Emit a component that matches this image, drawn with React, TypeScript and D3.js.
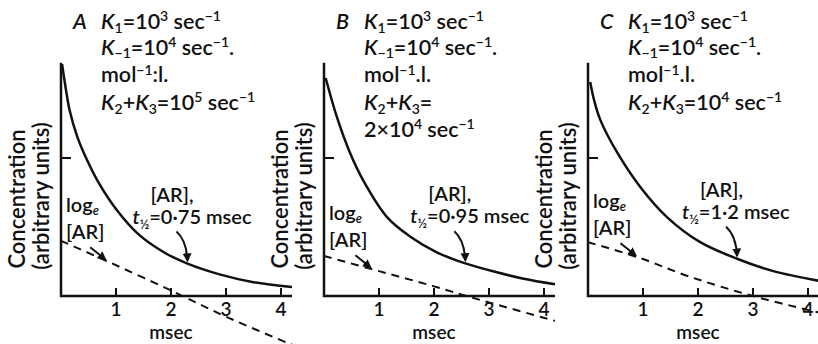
import React from 'react';
import * as d3 from 'd3';

// --- data (t in msec, v in arbitrary units; mid y tick = 1) ---
const panelIds = ['A', 'B', 'C'];
const xTicks = [1, 2, 3, 4];
const yTicks = [1];

const solidA: [number, number][] = [
  [0.02, 1.68], [0.08, 1.52], [0.16, 1.34], [0.3, 1.15], [0.48, 0.98], [0.7, 0.81],
  [1.0, 0.63], [1.4, 0.45], [1.9, 0.31], [2.3, 0.235], [2.9, 0.155], [3.5, 0.1], [4.2, 0.065],
];
const solidB: [number, number][] = [
  [0.03, 1.58], [0.24, 1.29], [0.47, 1.04], [0.71, 0.84], [1.15, 0.57], [1.57, 0.43],
  [2.06, 0.315], [2.54, 0.24], [3.16, 0.17], [3.63, 0.125], [4.2, 0.085],
];
const solidC: [number, number][] = [
  [0.04, 1.55], [0.11, 1.42], [0.22, 1.28], [0.53, 1.04], [0.95, 0.79], [1.44, 0.57],
  [2.04, 0.39], [2.71, 0.27], [3.37, 0.18], [4.2, 0.11],
];
const dashedA: [number, number][] = [[0, 0.4], [0.85, 0.25], [2.0, 0.04], [3.0, -0.15], [4.3, -0.37]];
const dashedB: [number, number][] = [[0, 0.29], [1.0, 0.18], [2.0, 0.07], [2.72, -0.015], [4.2, -0.18]];
const dashedC: [number, number][] = [[0, 0.39], [0.91, 0.28], [1.85, 0.14], [3.0, 0.0], [4.2, -0.12]];

const halfLives = ['0·75', '0·95', '1·2'];
const k23 = ['5', null, '4'];
const molSep = [':l.', '.l.', '.l.'];
// arrow tips (t on the curve) for the [AR] and log_e labels
const arTipT = [2.3, 2.57, 2.71];
const logTipT = [0.84, 0.88, 0.9];

const solids = [solidA, solidB, solidC];
const dashes = [dashedA, dashedB, dashedC];
const originX = [61, 324, 588];

const W = 818;
const H = 344;
const font = 'Lato, "Open Sans", sans-serif';
const ink = '#111';

function interp(data: [number, number][], t: number) {
  const f = d3.scaleLinear().domain(data.map(d => d[0])).range(data.map(d => d[1]));
  return f(t);
}

function Panel({ i }: { i: number }) {
  const x = d3.scaleLinear().domain([0, 4]).range([originX[i], originX[i] + 220]);
  const y = d3.scaleLinear().domain([0, 1]).range([296, 158]);
  const line = d3.line<[number, number]>()
    .x(d => x(d[0]))
    .y(d => y(d[1]))
    .curve(d3.curveCatmullRom.alpha(0.5));
  const x0 = x(0);
  const kx = x0 + 40;
  const fs = 20;
  const bs = 21.5; // parameter block
  const sub = { fontSize: 13 };
  const bsub = { fontSize: 14 };

  const tipA = [x(arTipT[i]), y(interp(solids[i], arTipT[i]))];
  const tailA = [tipA[0] - 11, tipA[1] - 32];
  const tipL = [x(logTipT[i]), y(interp(dashes[i], logTipT[i]))];
  const tailL = [tipL[0] - 17, tipL[1] - 14];

  return (
    <g fontFamily={font} fontWeight={600} fill={ink}>
      {/* axes */}
      <line x1={x0} x2={x0} y1={y(0) + 1} y2={y(1.69)} stroke={ink} strokeWidth={2.5} />
      <line x1={x0 - 1} x2={x(4.2)} y1={y(0)} y2={y(0)} stroke={ink} strokeWidth={2.5} />
      {yTicks.map(v => (
        <line key={v} x1={x0} x2={x0 + 10} y1={y(v)} y2={y(v)} stroke={ink} strokeWidth={2} />
      ))}
      {xTicks.map(v => (
        <g key={v}>
          <line x1={x(v)} x2={x(v)} y1={y(0)} y2={y(0) - 8} stroke={ink} strokeWidth={2} />
          <text x={x(v)} y={y(0) + 20} fontSize={19} textAnchor="middle">{v}</text>
        </g>
      ))}
      <text x={x(2)} y={339} fontSize={19} textAnchor="middle">msec</text>
      <text transform={`translate(${x0 - 36},199) rotate(-90)`} fontSize={22} textAnchor="middle">Concentration</text>
      <text transform={`translate(${x0 - 12},196) rotate(-90)`} fontSize={22} textAnchor="middle">(arbitrary units)</text>

      {/* curves */}
      <path d={line(solids[i]) || ''} fill="none" stroke={ink} strokeWidth={2.5} />
      <path d={line(dashes[i]) || ''} fill="none" stroke={ink} strokeWidth={2} strokeDasharray="8,6" />

      {/* arrows */}
      <path d={`M${tailA[0]},${tailA[1]} Q${tipA[0] - 1},${tailA[1] + 9} ${tipA[0]},${tipA[1] - 3}`}
        fill="none" stroke={ink} strokeWidth={2} markerEnd="url(#arr)" />
      <path d={`M${tailL[0]},${tailL[1]} L${tipL[0] - 2},${tipL[1] - 2}`}
        fill="none" stroke={ink} strokeWidth={2} markerEnd="url(#arr)" />

      {/* curve labels */}
      <text x={tipA[0] - 37} y={tipA[1] - 62} fontSize={fs}>[AR],</text>
      <text x={tipA[0] - 55} y={tipA[1] - 40} fontSize={fs}>
        <tspan fontStyle="italic">t</tspan>
        <tspan dy={5} style={sub}>½</tspan>
        <tspan dy={-5}>={halfLives[i]} msec</tspan>
      </text>
      <text x={x0 + 5} y={tipL[1] - 49} fontSize={fs}>
        log<tspan dy={3} fontStyle="italic" style={sub}>e</tspan>
      </text>
      <text x={x0 + 5} y={tipL[1] - 22} fontSize={fs}>[AR]</text>

      {/* parameter block */}
      <g fontSize={bs}>
        <text x={kx - 28} y={29} fontStyle="italic">{panelIds[i]}</text>
        <text x={kx} y={29}>
          <tspan fontStyle="italic">K</tspan><tspan dy={4} style={bsub}>1</tspan>
          <tspan dy={-4}>=10</tspan><tspan dy={-8} style={bsub}>3</tspan>
          <tspan dy={8}> sec</tspan><tspan dy={-8} style={bsub}>−1</tspan>
        </text>
        <text x={kx} y={55}>
          <tspan fontStyle="italic">K</tspan><tspan dy={3} style={bsub}>−1</tspan>
          <tspan dy={-3}>=10</tspan><tspan dy={-8} style={bsub}>4</tspan>
          <tspan dy={8}> sec</tspan><tspan dy={-8} style={bsub}>−1</tspan>
          <tspan dy={8}>.</tspan>
        </text>
        <text x={kx} y={82}>
          mol<tspan dy={-7} style={bsub}>−1</tspan><tspan dy={7}>{molSep[i]}</tspan>
        </text>
        <text x={kx} y={110}>
          <tspan fontStyle="italic">K</tspan><tspan dy={4} style={bsub}>2</tspan>
          <tspan dy={-4}>+</tspan>
          <tspan fontStyle="italic">K</tspan><tspan dy={4} style={bsub}>3</tspan>
          <tspan dy={-4}>=</tspan>
          {k23[i] && (
            <>
              <tspan>10</tspan><tspan dy={-8} style={bsub}>{k23[i]}</tspan>
              <tspan dy={8}> sec</tspan><tspan dy={-8} style={bsub}>−1</tspan>
            </>
          )}
        </text>
        {!k23[i] && (
          <text x={kx} y={137}>
            2×10<tspan dy={-8} style={bsub}>4</tspan>
            <tspan dy={8}> sec</tspan><tspan dy={-8} style={bsub}>−1</tspan>
          </text>
        )}
      </g>
    </g>
  );
}

export default function App() {
  return (
    <svg width={W} height={H} viewBox={`0 0 ${W} ${H}`}
      style={{ position: 'absolute', left: 0, top: 0, background: '#fff' }}>
      <defs>
        <marker id="arr" viewBox="0 0 10 10" refX="8" refY="5" markerWidth="4.5" markerHeight="4.5" orient="auto">
          <path d="M0,0 L10,5 L0,10 z" fill={ink} />
        </marker>
      </defs>
      <rect width={W} height={H} fill="#fff" />
      {panelIds.map((_, i) => <Panel key={i} i={i} />)}
    </svg>
  );
}
